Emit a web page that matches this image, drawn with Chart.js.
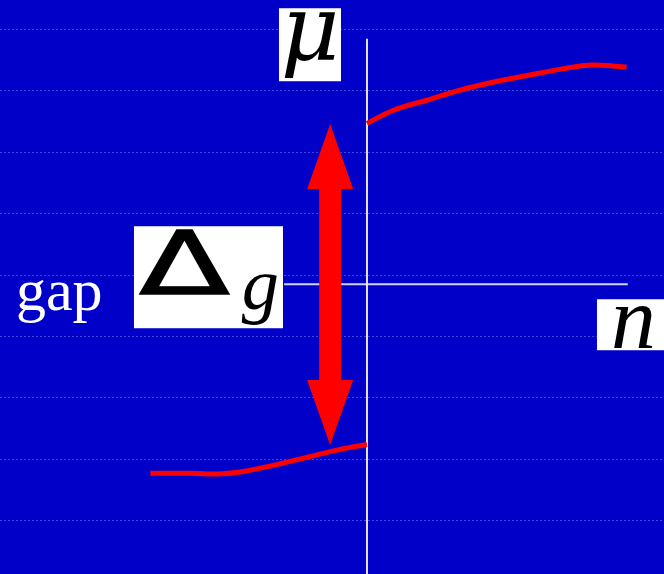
<!DOCTYPE html>
<html>
<head>
<meta charset="utf-8">
<script src="https://cdn.jsdelivr.net/npm/chart.js@4"></script>
<style>
  html, body { margin: 0; padding: 0; background: #0000c8; }
  canvas { display: block; }
</style>
</head>
<body>
<canvas id="gapChart" width="664" height="574"></canvas>
<script>
// upper band (conduction side), starts at n = 0
const upperN = [0, 0.42, 0.98, 1.51, 2.05, 2.61, 3.14, 3.68, 4.23];
const upperMu = [2.62, 2.83, 3.00, 3.16, 3.29, 3.40, 3.50, 3.57, 3.54];

// lower band (valence side), ends at n = 0
const lowerN = [-3.53, -2.88, -2.44, -2.07, -1.53, -0.98, -0.44, 0];
const lowerMu = [-3.08, -3.08, -3.09, -3.06, -2.95, -2.82, -2.69, -2.61];

// axis extents
const muAxisN = [0, 0];
const muAxisMu = [4.0, -4.8];
const nAxisN = [-1.35, 4.25];
const nAxisMu = [0, 0];

// double arrow marking the gap
const arrowN = -0.6;
const arrowMu = [-2.62, 2.61];

// faint background rules
const gridMu = [-3.85, -2.85, -1.85, -0.85, 0.15, 1.15, 2.15, 3.15, 4.15];

const toPoints = (xs, ys) => xs.map((x, i) => ({ x: x, y: ys[i] }));

// scale a glyph to the box height and centre it across the box width
function fitText(ctx, text, font, x0, y0, x1, y1, color, stretch, weight) {
    ctx.save();
    ctx.font = font;
    ctx.textAlign = 'left';
    ctx.textBaseline = 'alphabetic';
    const m = ctx.measureText(text);
    const w = m.actualBoundingBoxLeft + m.actualBoundingBoxRight;
    const h = m.actualBoundingBoxAscent + m.actualBoundingBoxDescent;
    const sy = (y1 - y0) / h;
    const sx = stretch ? (x1 - x0) / w : sy;
    ctx.translate((x0 + x1) / 2 - w * sx / 2, y0);
    ctx.scale(sx, sy);
    ctx.fillStyle = color;
    ctx.fillText(text, m.actualBoundingBoxLeft, m.actualBoundingBoxAscent);
    if (weight) {
        // thicken the outline a little
        ctx.strokeStyle = color;
        ctx.lineWidth = weight / sy;
        ctx.lineJoin = 'miter';
        ctx.strokeText(text, m.actualBoundingBoxLeft, m.actualBoundingBoxAscent);
    }
    ctx.restore();
}

const background = {
    id: 'background',
    beforeDraw(chart) {
        const ctx = chart.ctx;
        ctx.save();
        ctx.fillStyle = '#0000c8';
        ctx.fillRect(0, 0, chart.width, chart.height);
        ctx.restore();
    }
};

const annotations = {
    id: 'annotations',
    afterDatasetsDraw(chart) {
        const ctx = chart.ctx;
        const xs = chart.scales.x, ys = chart.scales.y;
        const ox = xs.getPixelForValue(0);
        const oy = ys.getPixelForValue(0);

        // gap arrow
        const ax = xs.getPixelForValue(arrowN);
        const top = ys.getPixelForValue(arrowMu[1]);
        const bot = ys.getPixelForValue(arrowMu[0]);
        const headLen = 65, headHalf = 23, shaftHalf = 11;
        ctx.save();
        ctx.fillStyle = '#ff0000';
        ctx.beginPath();
        ctx.moveTo(ax, top);
        ctx.lineTo(ax + headHalf, top + headLen);
        ctx.lineTo(ax + shaftHalf, top + headLen);
        ctx.lineTo(ax + shaftHalf, bot - headLen);
        ctx.lineTo(ax + headHalf, bot - headLen);
        ctx.lineTo(ax, bot);
        ctx.lineTo(ax - headHalf, bot - headLen);
        ctx.lineTo(ax - shaftHalf, bot - headLen);
        ctx.lineTo(ax - shaftHalf, top + headLen);
        ctx.lineTo(ax - headHalf, top + headLen);
        ctx.closePath();
        ctx.fill();

        // label boxes
        ctx.fillStyle = '#ffffff';
        ctx.fillRect(ox - 88, oy - 276, 62, 73);   // mu
        ctx.fillRect(ox + 230, oy + 15, 70, 51);   // n
        ctx.fillRect(ox - 233, oy - 58, 149, 102); // Delta_g
        ctx.restore();

        fitText(ctx, 'μ', 'italic 96px "DejaVu Serif"', ox - 85, oy - 272, ox - 29, oy - 206, '#000');
        fitText(ctx, 'n', 'italic 96px "Liberation Serif"', ox + 238, oy + 21, ox + 295, oy + 64, '#000');
        fitText(ctx, 'Δ', '96px "DejaVu Sans"', ox - 228, oy - 55, ox - 138, oy + 10, '#000', true, 1.3);
        fitText(ctx, 'g', 'italic 80px "Liberation Serif"', ox - 125, oy - 11, ox - 90, oy + 41, '#000');

        ctx.save();
        ctx.fillStyle = '#ffffff';
        ctx.font = '60px "Liberation Serif"';
        ctx.textAlign = 'left';
        ctx.textBaseline = 'alphabetic';
        ctx.fillText('gap', ox - 351, oy + 26);
        ctx.restore();
    }
};

new Chart('gapChart', {
    type: 'line',
    data: {
        datasets: [
            {
                data: toPoints(upperN, upperMu),
                borderColor: '#ff0000', borderWidth: 5,
                cubicInterpolationMode: 'monotone',
                pointRadius: 0, order: 1
            },
            {
                data: toPoints(lowerN, lowerMu),
                borderColor: '#ff0000', borderWidth: 5,
                cubicInterpolationMode: 'monotone',
                pointRadius: 0, order: 1
            },
            {
                data: toPoints(muAxisN, muAxisMu),
                borderColor: '#e4e4ec', borderWidth: 2,
                pointRadius: 0, order: 2
            },
            {
                data: toPoints(nAxisN, nAxisMu),
                borderColor: '#d0d0ff', borderWidth: 2,
                pointRadius: 0, order: 2
            }
        ]
    },
    options: {
        responsive: false,
        animation: false,
        devicePixelRatio: 1,
        layout: { padding: 0 },
        plugins: { legend: { display: false }, tooltip: { enabled: false } },
        scales: {
            x: {
                type: 'linear', min: -5.98, max: 4.84,
                grid: { display: false },
                ticks: { display: false },
                border: { display: false },
                afterFit: s => { s.height = 0; }
            },
            y: {
                type: 'linear', min: -4.72, max: 4.63,
                grid: { color: 'rgba(150,170,255,0.4)', lineWidth: 1, drawTicks: false },
                ticks: { display: false },
                border: { display: false, dash: [2, 2] },
                afterBuildTicks: s => { s.ticks = gridMu.map(v => ({ value: v })); },
                afterFit: s => { s.width = 0; }
            }
        }
    },
    plugins: [background, annotations]
});
</script>
</body>
</html>
